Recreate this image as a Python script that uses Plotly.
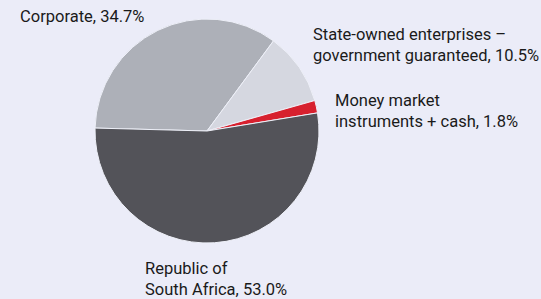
import plotly.graph_objects as go

labels = ["Corporate", "State-owned enterprises – government guaranteed",
          "Money market instruments + cash", "Republic of South Africa"]
values = [34.7, 10.5, 1.8, 53.0]
label_texts = ["Corporate, 34.7%",
               "State-owned enterprises –<br>government guaranteed, 10.5%",
               "Money market<br>instruments + cash, 1.8%",
               "Republic of<br>South Africa, 53.0%"]
colors = ["#adb0b8", "#d5d7e0", "#d7202e", "#535359"]

W, H = 541, 299
cx, cy, r = 207, 131, 112
bg = "#ebecf8"

fig = go.Figure(go.Pie(
    labels=labels, values=values, sort=False, direction="clockwise",
    rotation=-88.5, textinfo="none", hoverinfo="label+percent",
    marker=dict(colors=colors, line=dict(color="#eef0f8", width=1)),
    domain=dict(x=[(cx - r) / W, (cx + r) / W],
                y=[(H - cy - r) / H, (H - cy + r) / H]),
    showlegend=False,
))

ann_pos = [(18, 17), (311, 45), (333, 111), (143, 279)]
for txt, (x, y) in zip(label_texts, ann_pos):
    fig.add_annotation(text=txt, x=x / W, y=1 - y / H, xref="paper", yref="paper",
                       xanchor="left", yanchor="middle", align="left",
                       showarrow=False,
                       font=dict(family="Roboto", size=16.5, color="#1a1a1a"))

fig.update_layout(width=W, height=H, margin=dict(l=0, r=0, t=0, b=0),
                  paper_bgcolor=bg, plot_bgcolor=bg)
fig.write_html("out.html", config={"displayModeBar": False},
               post_script="document.body.style.margin='0';document.body.style.overflow='hidden';")
